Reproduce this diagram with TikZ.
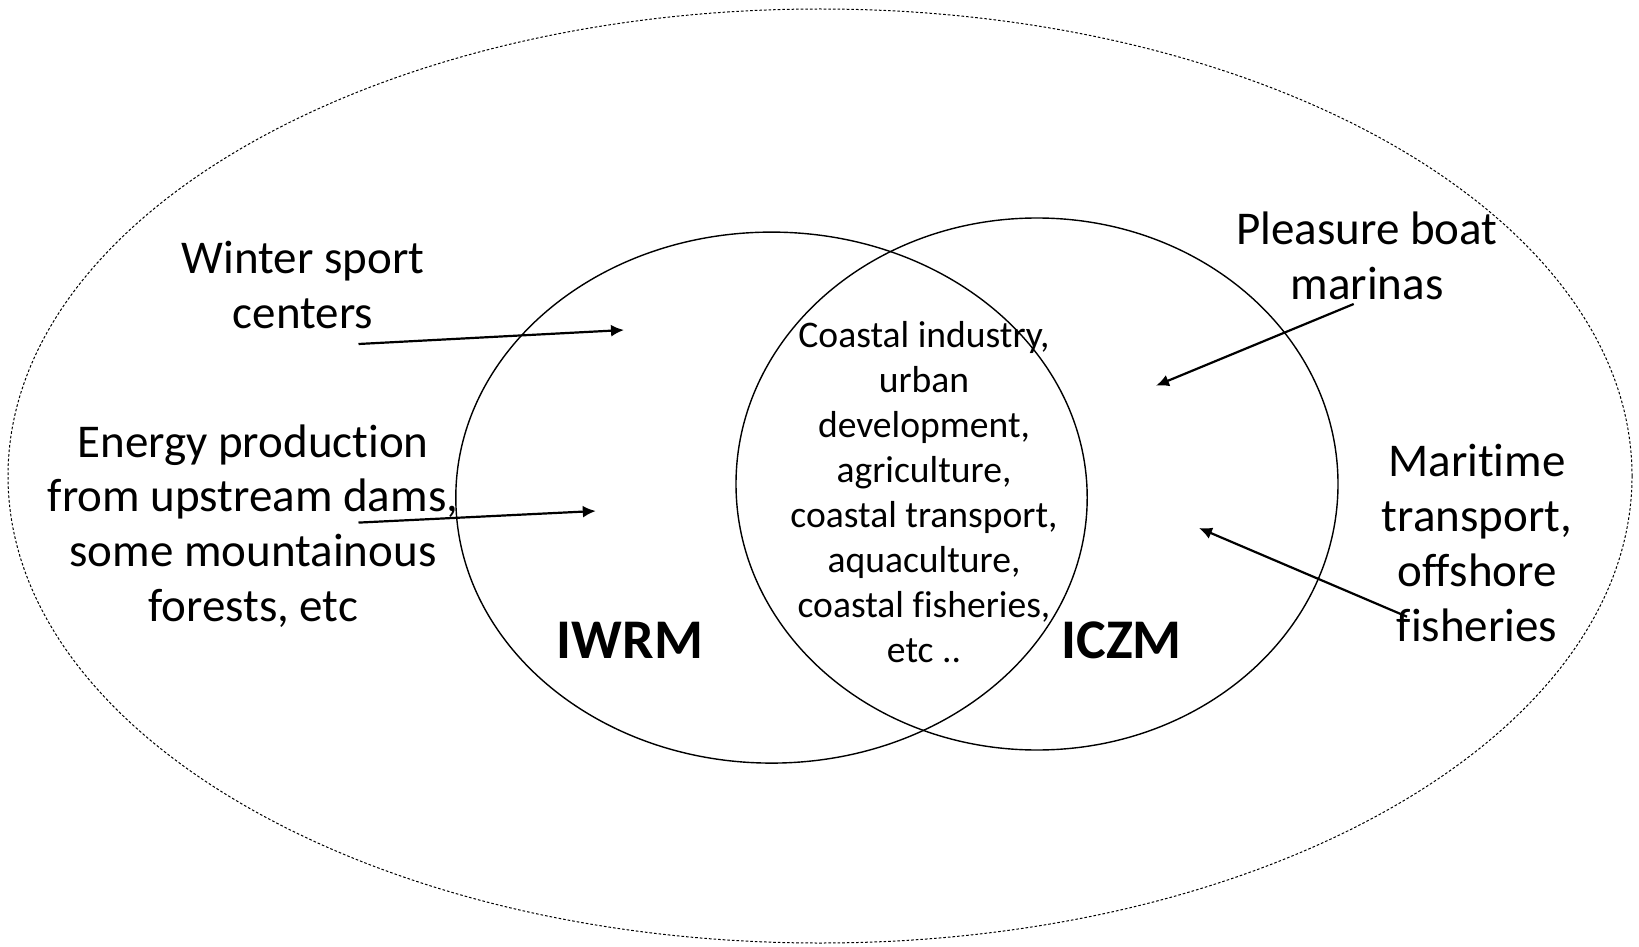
\documentclass[tikz,border=0pt]{standalone}
\usepackage{fontspec}
\setmainfont{Carlito}[Ligatures=NoCommon]
\usetikzlibrary{arrows.meta}

\tikzset{
  bigtext/.style={align=center,inner sep=0pt,font=\fontsize{23.5}{27.4}\selectfont},
  midtext/.style={align=center,inner sep=0pt,font=\fontsize{18.8}{22.5}\selectfont},
  zonelabel/.style={inner sep=0pt,font=\fontsize{28}{30}\selectfont\bfseries},
  pointer/.style={line width=1.1pt,-{Latex[length=6.5pt,width=6pt]}}
}

\begin{document}
\begin{tikzpicture}[x=0.5pt,y=-0.5pt]
\useasboundingbox (0,0) rectangle (1639,947);
\draw[line width=0.5pt,dash pattern=on 1.3pt off 1pt] (820,476) ellipse [x radius=812,y radius=467]; % outer zone
\draw[line width=0.7pt] (771.5,497.6) ellipse [x radius=315.7,y radius=265.5]; % IWRM
\draw[line width=0.7pt] (1037,484) ellipse [x radius=301,y radius=266]; % ICZM

\node[bigtext] (winter) at (303,285) {Winter sport\\centers};
\node[bigtext] (energy) at (253,526) {Energy production\\from upstream dams,\\some mountainous\\forests, etc};
\node[midtext] (common) at (924,492) {Coastal industry,\\urban\\development,\\agriculture,\\coastal transport,\\aquaculture,\\coastal fisheries,\\etc ..};
\node[zonelabel] (iwrm) at (630,640) {IWRM};
\node[zonelabel] (iczm) at (1121.6,640) {ICZM};
\node[bigtext] (marinas) at (1367,256) {Pleasure boat\\marinas};
\node[bigtext] (maritime) at (1477,543) {Maritime\\transport,\\offshore\\fisheries};

%arrows
\coordinate (winterA) at (358.5,344);
\coordinate (winterB) at (624,330);
\coordinate (energyA) at (358.5,522.6);
\coordinate (energyB) at (595.8,511);
\coordinate (marinasA) at (1353.7,304);
\coordinate (marinasB) at (1156,385.7);
\coordinate (maritimeA) at (1407,616.7);
\coordinate (maritimeB) at (1199,528);
\draw[pointer] (winterA) -- (winterB);
\draw[pointer] (energyA) -- (energyB);
\draw[pointer] (marinasA) -- (marinasB);
\draw[pointer] (maritimeA) -- (maritimeB);
\end{tikzpicture}
\end{document}
